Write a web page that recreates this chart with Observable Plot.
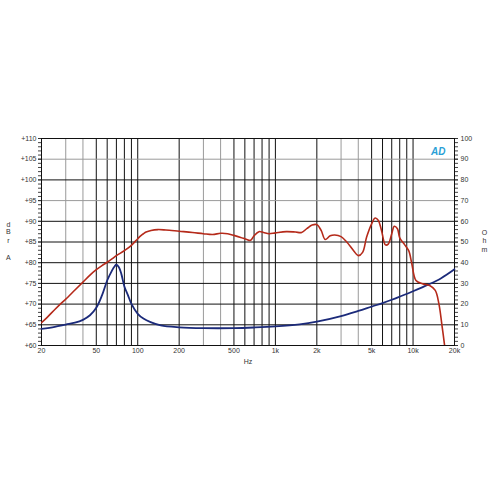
<!DOCTYPE html>
<html><head><meta charset="utf-8">
<script src="https://cdn.jsdelivr.net/npm/d3@7"></script>
<script src="https://cdn.jsdelivr.net/npm/@observablehq/plot@0.6"></script>
<style>body{margin:0;background:#fff;}</style>
</head><body><div id="chart"></div>
<script>
// Frequency response (dB SPL)
const splFreq = [20,22,25,28,30,35,40,45,50,55,60,65,70,80,90,100,105,110,115,125,140,160,200,250,300,350,400,450,500,560,620,660,700,760,820,900,1000,1200,1400,1550,1700,1850,2000,2150,2300,2500,2700,3000,3300,3700,4000,4300,4600,5000,5300,5600,5900,6300,6600,7000,7300,7700,8000,8700,9300,9800,10500,11700,13200,14500,15400,16200,17100];
const splDb = [65.5,66.8,68.7,70.3,71.2,73.4,75.3,77,78.3,79.3,80.1,80.9,81.7,82.9,84.2,85.8,86.5,87.0,87.4,87.8,88,87.9,87.6,87.3,87.0,86.8,87.1,87,86.6,86.1,85.6,85.4,86.5,87.5,87.3,87.0,87.2,87.5,87.4,87.3,88.3,89.1,89.2,87.8,85.6,86.5,86.7,86.3,85,82.9,81.7,82.5,86.2,89.4,90.8,90.2,87.8,84.3,84.5,87,88.8,88.2,86,84.3,82.9,79.7,75.7,74.9,74.5,73.3,70.1,65,59];
// Impedance (ohm)
const impFreq = [20,25,30,35,40,45,50,55,60,65,68,70,73,76,80,85,90,100,110,124,147,200,300,500,700,1000,1500,2000,3000,4000,5000,6000,7000,8000,10000,13000,16000,20000];
const impOhm = [8.0,9.0,10.1,11.0,12.4,14.6,18.2,24.2,31.4,36.2,38.3,39,37.8,34.6,28.5,24.2,20.1,15.3,13,11.3,9.7,8.8,8.4,8.4,8.7,9.2,10.2,11.5,14.2,16.7,18.8,20.5,22.1,23.6,26.2,29.5,32.5,36.8];

const xTicks = [20,50,100,200,500,1000,2000,5000,10000,20000];
const xTickLabels = ["20","50","100","200","500","1k","2k","5k","10k","20k"];
const gridFreqBlack = [20,50,60,70,80,90,100,200,500,600,700,800,900,1000,2000,5000,6000,7000,8000,9000,10000,20000];
const gridFreqGrey = [30,40,300,400,3000,4000];
const dbTicks = [60,65,70,75,80,85,90,95,100,105,110];
const dbTickLabels = ["+60","+65","+70","+75","+80","+85","+90","+95","+100","+105","+110"];
const dbGridBlack = [60,65,70,75,80,85,90,100,110];
const dbGridGrey = [95,105];
const ohmTicks = [0,10,20,30,40,50,60,70,80,90,100];
const leftTitle = ["d","B","r","A"];
const rightTitle = ["O","h","m"];

const spl = splFreq.map((f,i)=>({f, v: splDb[i]}));
const imp = impFreq.map((f,i)=>({f, v: 60 + impOhm[i]/2}));
const minorDb = d3.range(60, 110.01, 1);
const dbLabelMap = new Map(dbTicks.map((t,i)=>[t, dbTickLabels[i]]));
// title letters placed in scale coordinates (outside the frame)
const leftTitlePos = [[11.5,89.2],[11.5,87.5],[11.5,85.4],[11.5,81.3]];
const rightTitlePos = [[33000,87.3],[33000,85.4],[33000,83.2]];

const font = "Liberation Sans, Arial, sans-serif";
const chart = Plot.plot({
  width: 500, height: 500,
  marginLeft: 41, marginRight: 46, marginTop: 138, marginBottom: 155,
  style: {fontFamily: font, fontSize: "7px", color: "#333", background: "#fff"},
  x: {type: "log", domain: [20, 20000], axis: null},
  y: {domain: [60, 110], axis: null},
  marks: [
    Plot.ruleX(gridFreqGrey, {stroke: "#9a9a9a", strokeWidth: 1}),
    Plot.ruleX(gridFreqBlack, {stroke: "#111", strokeWidth: 1}),
    Plot.ruleY(dbGridGrey, {stroke: "#9a9a9a", strokeWidth: 1}),
    Plot.ruleY(dbGridBlack, {stroke: "#111", strokeWidth: 1}),
    Plot.frame({stroke: "#111"}),
    Plot.axisY({ticks: minorDb, tickSize: 3, tickFormat: () => "", stroke: "#444", label: null}),
    Plot.axisY({ticks: dbTicks, tickSize: 3, tickPadding: 2, tickFormat: d => dbLabelMap.get(d), label: null, fill: "#333"}),
    Plot.axisY({anchor: "right", ticks: minorDb, tickSize: 3, tickFormat: () => "", stroke: "#444", label: null}),
    Plot.axisY({anchor: "right", ticks: ohmTicks.map(o => 60 + o/2), tickSize: 3, tickPadding: 3, tickFormat: d => String(Math.round((d-60)*2)), label: null, fill: "#333"}),
    Plot.text(xTicks, {x: d => d, frameAnchor: "bottom", dy: 7, text: (d,i) => xTickLabels[i], fontSize: 7, fill: "#333"}),
    Plot.text(["Hz"], {frameAnchor: "bottom", dy: 18, fontSize: 7, fill: "#333"}),
    Plot.text(leftTitle, {x: (d,i) => leftTitlePos[i][0], y: (d,i) => leftTitlePos[i][1], text: d => d, fontSize: 7, fill: "#333"}),
    Plot.text(rightTitle, {x: (d,i) => rightTitlePos[i][0], y: (d,i) => rightTitlePos[i][1], text: d => d, fontSize: 7, fill: "#333"}),
    Plot.line(imp, {x: "f", y: "v", stroke: "#1b2a7a", strokeWidth: 1.8, curve: "catmull-rom"}),
    Plot.line(spl, {x: "f", y: "v", stroke: "#b52a1a", strokeWidth: 1.6, curve: "catmull-rom", clip: true}),
    Plot.text(["AD"], {frameAnchor: "top-right", dx: -9, dy: 9, fontSize: 10, fontWeight: "bold", fontStyle: "italic", fill: "#2a9fd6"})
  ]
});
document.getElementById("chart").appendChild(chart);
</script>
</body></html>
